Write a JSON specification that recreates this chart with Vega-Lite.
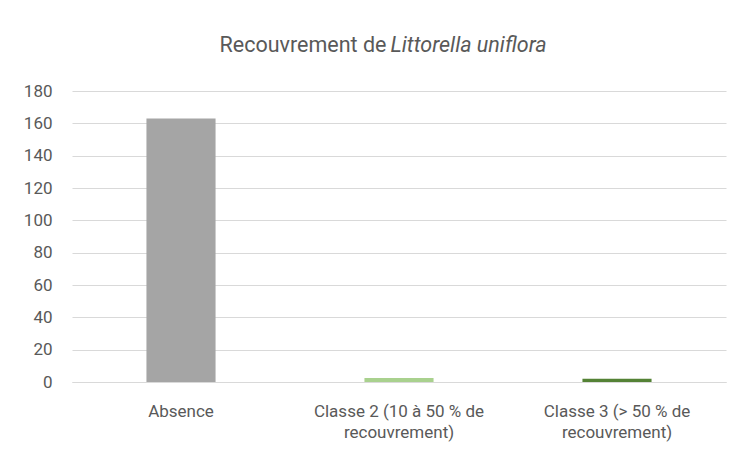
{
  "$schema": "https://vega.github.io/schema/vega-lite/v6.json",
  "width": 654,
  "height": 291,
  "autosize": "none",
  "padding": {"left": 72, "top": 91, "right": 19, "bottom": 78},
  "background": "white",
  "data": {
    "values": [
      {"categorie": "Absence", "nombre": 163},
      {"categorie": "Classe 2 (10 à 50 % de recouvrement)", "nombre": 2.5},
      {"categorie": "Classe 3 (> 50 % de recouvrement)", "nombre": 2}
    ]
  },
  "mark": {"type": "bar"},
  "encoding": {
    "x": {
      "field": "categorie",
      "type": "nominal",
      "sort": null,
      "scale": {"paddingInner": 0.683, "paddingOuter": 0.3415},
      "axis": {
        "title": "Recouvrement de",
        "titleFont": "Roboto",
        "titleFontSize": 21.5,
        "titleFontWeight": "normal",
        "titleColor": "#595959",
        "titleAlign": "right",
        "titleBaseline": "middle",
        "titleAnchor": null,
        "titleX": 314,
        "titleY": -337,
        "labelAngle": 0,
        "labelFont": "Roboto",
        "labelFontSize": 17,
        "labelColor": "#595959",
        "labelLineHeight": 21,
        "labelPadding": 21,
        "labelExpr": "split(replace(datum.label, ' de recouvrement)', ' de|recouvrement)'), '|')",
        "domain": true,
        "domainColor": "#d9d9d9",
        "domainWidth": 1,
        "ticks": false
      }
    },
    "y": {
      "field": "nombre",
      "type": "quantitative",
      "scale": {"domain": [0, 180], "nice": false},
      "axis": {
        "title": "Littorella uniflora",
        "titleFont": "Roboto",
        "titleFontSize": 21.5,
        "titleFontWeight": "normal",
        "titleFontStyle": "italic",
        "titleColor": "#595959",
        "titleAngle": 0,
        "titleAlign": "left",
        "titleBaseline": "middle",
        "titleAnchor": null,
        "titleX": 318,
        "titleY": -46,
        "values": [0, 20, 40, 60, 80, 100, 120, 140, 160, 180],
        "labelFont": "Roboto",
        "labelFontSize": 17,
        "labelColor": "#595959",
        "labelPadding": 20,
        "domain": false,
        "ticks": false,
        "grid": true,
        "gridColor": "#d9d9d9",
        "gridWidth": 1
      }
    },
    "color": {
      "field": "categorie",
      "type": "nominal",
      "scale": {
        "domain": ["Absence", "Classe 2 (10 à 50 % de recouvrement)", "Classe 3 (> 50 % de recouvrement)"],
        "range": ["#a5a5a5", "#a9d18e", "#548235"]
      },
      "legend": null
    }
  },
  "config": {"view": {"stroke": null}}
}
